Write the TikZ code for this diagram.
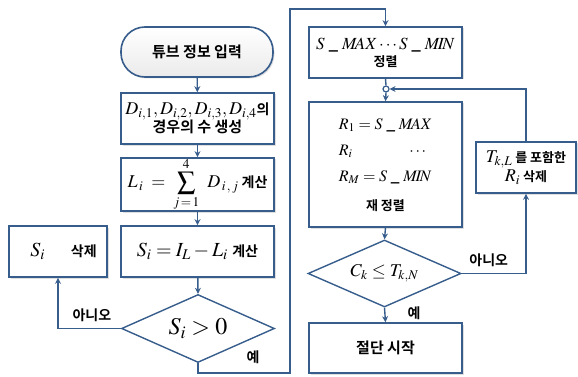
\documentclass[tikz,border=0pt]{standalone}
\usepackage{mathptmx}
\usepackage{fontspec}
\newfontfamily\krfont{Noto Sans CJK KR}[UprightFont=* Bold]
\usetikzlibrary{shapes.geometric, shadows, arrows.meta}
\definecolor{flowblue}{RGB}{55,93,140}

\begin{document}
\begin{tikzpicture}[x=1pt, y=-1pt,
    every node/.style={align=center, inner sep=0pt, font=\krfont\fontsize{14}{16}\selectfont},
    procbox/.style={draw=flowblue, line width=1.6pt, fill=white,
      minimum width=153pt, minimum height=51pt,
      drop shadow={shadow xshift=1.5pt, shadow yshift=-1.5pt, fill=black!25}},
    termbox/.style={procbox, rounded corners=24pt, minimum width=152pt, minimum height=50pt,
      top color=white, bottom color=black!8},
    decbox/.style={diamond, draw=flowblue, line width=1.4pt, fill=white, aspect=2.3,
      minimum width=153pt, minimum height=68pt},
    flowline/.style={draw=flowblue, line width=1.4pt},
    flowarrow/.style={flowline, -{Stealth[length=6pt, width=6pt]}},
    lbl/.style={font=\krfont\fontsize{14}{16}\selectfont}
  ]
  \useasboundingbox (0,0) rectangle (578,377);

  % left column
  \node[termbox] (start) at (197,52) {\fontsize{15}{17}\selectfont 튜브 정보 입력};
  \node[procbox] (gen) at (197.5,118.5)
    {\fontsize{18}{20}\selectfont$D_{i,1},D_{i,2},D_{i,3},D_{i,4}$\fontsize{14}{16}\selectfont 의\\[-1pt]
     \fontsize{15}{17}\selectfont 경우의 수 생성};
  \node[procbox] (sum) at (197.5,184.5)
    {\fontsize{18}{20}\selectfont$L_{\,i} \;=\; \displaystyle\sum_{j\,=\,1}^{4}\;\, D_{\,i\,,\,j}$\,%
     \fontsize{14}{16}\selectfont 계산};
  \node[procbox] (diff) at (197.5,251.5)
    {\fontsize{20}{22}\selectfont$S_i = I_L - L_i$\ \fontsize{14}{16}\selectfont 계산};
  \node[procbox, minimum width=98pt] (del) at (58,251.5)
    {\hspace*{11pt}\fontsize{20}{22}\selectfont$S_i$\hspace{26pt}\fontsize{14}{16}\selectfont 삭제};
  \node[decbox] (chk) at (198,328.5) {\fontsize{24}{26}\selectfont$S_i > 0$};

  % right column
  \node[procbox] (sort) at (385.5,52.5)
    {\fontsize{17}{19}\selectfont$S\;\_\;M\!AX\cdots S\;\_\;M\!I\!N$\\[1pt]
     \fontsize{13}{15}\selectfont 정렬};
  \node[procbox, minimum height=125pt] (resort) at (385.5,164.5)
    {\fontsize{16}{18}\selectfont
     $\begin{array}{@{}l@{}}
       R_1 = S\;\_\;M\!AX\\[8pt]
       R_i \qquad\quad\;\; \cdots\\[8pt]
       R_M = S\;\_\;M\!I\!N
     \end{array}$\\[12pt]
     \fontsize{13}{15}\selectfont 재 정렬};
  \node[decbox, minimum height=67pt] (cmp) at (384.5,273.5)
    {\fontsize{18}{20}\selectfont$C_k \le T_{k,N}$};
  \node[procbox, minimum height=50pt] (cut) at (385.5,348) {\fontsize{15}{17}\selectfont 절단 시작};
  \node[procbox, minimum width=100pt] (rdel) at (526,167.5)
    {\fontsize{18}{20}\selectfont$T_{k,L}$\,\fontsize{13}{15}\selectfont 를 포함한\\[1pt]
     \fontsize{18}{20}\selectfont$R_i$\fontsize{13}{15}\selectfont\ 삭제};
  \node[circle, draw=flowblue, line width=1.2pt, fill=white, minimum size=6pt] (jn) at (386,89) {};

  \coordinate (lowturn) at (290,373);
  \coordinate (topturn) at (290,9);

  % connectors
  \draw[flowarrow] (start) -- (gen);
  \draw[flowarrow] (gen) -- (sum);
  \draw[flowarrow] (sum) -- (diff);
  \draw[flowarrow] (diff) -- (chk.north);
  \draw[flowarrow] (chk.west) -| (del.south)
    node[lbl, pos=0.23, above=6pt] {아니오};
  \draw[flowarrow] (chk.south) |- (lowturn) -- (topturn) -| (sort.north);
  \node[lbl] (yes1) at (253,357) {예};
  \draw[flowline] (sort.south) -- (jn.north);
  \draw[flowarrow] (jn.south) -- (resort.north);
  \draw[flowarrow] (resort.south) -- (cmp.north);
  \draw[flowarrow] (cmp.south) -- (cut.north)
    node[lbl, pos=0.35, right=22pt] {예};
  \draw[flowarrow] (cmp.east) -| (rdel.south)
    node[lbl, pos=0.21, above=6pt] {아니오};
  \draw[flowarrow] (rdel.north) |- (jn.east);
\end{tikzpicture}
\end{document}
